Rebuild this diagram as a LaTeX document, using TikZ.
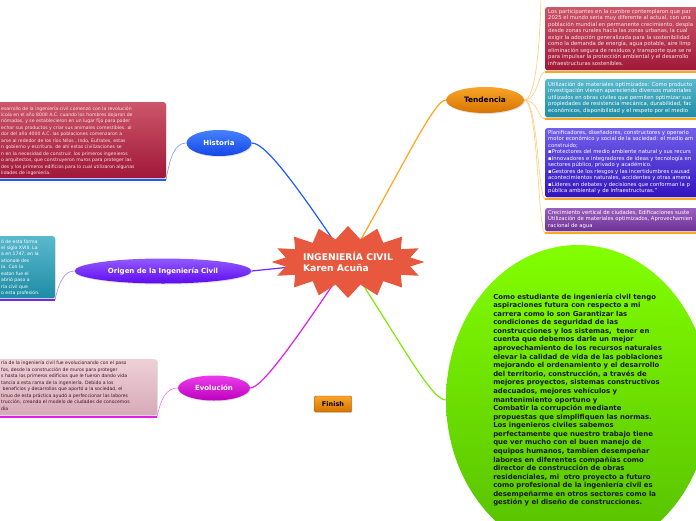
\documentclass[tikz,border=0pt]{standalone}
\usepackage{fontspec}
\setmainfont{DejaVu Sans}
\usetikzlibrary{shapes.symbols,shapes.geometric,shadows,backgrounds}
\definecolor{rojo}{RGB}{232,88,62}
\definecolor{azul}{RGB}{30,90,255}
\definecolor{azulA}{RGB}{70,130,255}
\definecolor{azulB}{RGB}{20,70,230}
\definecolor{azulclaro}{RGB}{120,150,255}
\definecolor{morado}{RGB}{110,40,255}
\definecolor{moradoA}{RGB}{145,90,255}
\definecolor{moradoB}{RGB}{95,10,240}
\definecolor{moradoclaro}{RGB}{160,130,255}
\definecolor{fucsia}{RGB}{225,30,235}
\definecolor{fucsiaA}{RGB}{235,60,235}
\definecolor{fucsiaB}{RGB}{190,0,190}
\definecolor{fucsiaclaro}{RGB}{240,120,245}
\definecolor{naranja}{RGB}{255,165,30}
\definecolor{naranjaA}{RGB}{248,165,40}
\definecolor{naranjaB}{RGB}{215,115,0}
\definecolor{naranjaclaro}{RGB}{255,200,120}
\definecolor{lima}{RGB}{125,235,0}
\definecolor{verdeA}{RGB}{130,255,0}
\definecolor{verdeB}{RGB}{85,190,0}
\definecolor{granateA}{RGB}{204,86,106}
\definecolor{granateB}{RGB}{160,24,56}
\definecolor{tealA}{RGB}{90,185,205}
\definecolor{tealB}{RGB}{30,140,165}
\definecolor{rosaA}{RGB}{238,208,216}
\definecolor{rosaB}{RGB}{214,170,184}
\definecolor{violetaA}{RGB}{115,95,235}
\definecolor{violetaB}{RGB}{50,20,190}
\definecolor{lilaA}{RGB}{155,95,190}
\definecolor{lilaB}{RGB}{110,50,150}
\definecolor{textorosa}{RGB}{250,228,235}
\definecolor{textoosc}{RGB}{60,20,40}
\definecolor{finborde}{RGB}{160,85,0}
\begin{document}
\begin{tikzpicture}[x=1pt,y=-1pt,line cap=round,line join=round,
  rama/.style={ellipse,minimum height=26pt,inner sep=0pt,text=white,
    font=\fontsize{7}{8}\selectfont\bfseries,
    drop shadow={opacity=0.25,shadow xshift=0.8pt,shadow yshift=-1pt}},
  caja/.style={rectangle,rounded corners=2pt,inner sep=0pt,
    drop shadow={opacity=0.25,shadow xshift=1pt,shadow yshift=-1pt}},
  texto/.style={anchor=base west,inner sep=0pt,align=left,
    font=\fontsize{4.6}{6.45}\selectfont},
  textoder/.style={texto,font=\fontsize{5.3}{6.5}\selectfont},
  barra/.style={line width=2pt,line cap=butt},
  enlace/.style={line width=1.2pt},
  hilo/.style={line width=0.6pt}]
\useasboundingbox (0,0) rectangle (696,520);

\node[starburst,starburst points=16,starburst point height=13pt,random starburst=0,
  fill=rojo,minimum width=144pt,minimum height=72pt,inner sep=0pt,align=left,text=white,
  font=\fontsize{9.2}{11}\selectfont\bfseries] (centro) at (348,262) {INGENIERÍA CIVIL\\Karen Acuña};

\node[rama,top color=azulA,bottom color=azulB,minimum width=65pt] (hist) at (219,143) {Historia};
\node[rama,top color=moradoA,bottom color=moradoB,minimum width=177pt,minimum height=25pt] (orig) at (163,271) {Origen de la Ingeniería Civil};
\node[rama,top color=fucsiaA,bottom color=fucsiaB,minimum width=72pt,minimum height=25pt] (evol) at (214,388) {Evolución};
\node[rama,top color=naranjaA,bottom color=naranjaB,minimum width=78pt,text=black,
  font=\fontsize{7.4}{8}\selectfont\bfseries] (tend) at (485,100) {Tendencia};

\node[ellipse,minimum width=264pt,minimum height=310pt,inner sep=0pt,top color=verdeA,bottom color=verdeB,
  align=left,text=black!90,font=\fontsize{6.9}{8.58}\selectfont\bfseries] (futuro) at (578,400)
  {Como estudiante de ingeniería civil tengo\\
   aspiraciones futura con respecto a mi\\
   carrera como lo son Garantizar las\\
   condiciones de seguridad de las\\
   construcciones y los sistemas,\ \ tener en\\
   cuenta que debemos darle un mejor\\
   aprovechamiento de los recursos naturales\\
   elevar la calidad de vida de las poblaciones\\
   mejorando el ordenamiento y el desarrollo\\
   del territorio, construcción, a través de\\
   mejores proyectos, sistemas constructivos\\
   adecuados, mejores vehículos y\\
   mantenimiento oportuno y\\
   Combatir la corrupción mediante\\
   propuestas que simplifiquen las normas.\\
   Los ingenieros civiles sabemos\\
   perfectamente que nuestro trabajo tiene\\
   que ver mucho con el buen manejo de\\
   equipos humanos, tambien desempeñar\\
   labores en diferentes compañías como\\
   director de construcción de obras\\
   residenciales, mi\ \ otro proyecto a futuro\\
   como profesional de la ingeniería civil es\\
   desempeñarme en otros sectores como la\\
   gestión y el diseño de construcciones.};

\node[caja,top color=granateA,bottom color=granateB,minimum width=174pt,minimum height=76pt,anchor=north east] (histbox) at (166,102) {};
\node[texto,text=textorosa] (histtxt) at (1,174.5)
  {esarrollo de la ingeniería civil comenzó con la revolución\\
   ícola en el año 8000 A.C. cuando los hombres dejaron de\\
   nómadas, y se establecieron en un lugar fijo para poder\\
   echar sus productos y criar sus animales comestibles. al\\
   dor del año 4000 A.C. las poblaciones comenzaron a\\
   arse al rededor de los ríos Nilos , Indo, Eufrates, estas\\
   n gobierno y escritura. de ahí estas civilizaciones se\\
   n en la necesidad de construir. los primeros ingenieros\\
   o arquitectos, que construyeron muros para proteger las\\
   des y los primeros edificios para lo cual utilizaron algunas\\
   lidades de ingeniería.};

\node[caja,top color=tealA,bottom color=tealB,minimum width=63pt,minimum height=62pt,anchor=north east] (origbox) at (55,236) {};
\node[texto,text=white] (origtxt) at (1,294.6)
  {ó de esta forma\\
   el siglo XVIII. La\\
   a en 1747, en la\\
   ationale des\\
   ía. Con la\\
   eaton fue el\\
   abrió paso a\\
   ría civil que\\
   o esta profesión.};

\node[caja,top color=rosaA,bottom color=rosaB,minimum width=165pt,minimum height=56pt,anchor=north east] (evolbox) at (157,359) {};
\node[texto,text=textoosc] (evoltxt) at (1,410)
  {ría de la ingeniería civil fue evolucionando con el paso\\
   fos, desde la construcción de muros para proteger\\
   s hasta los primeros edificios que le fueron dando vida\\
   tancia a esta rama de la ingeniería. Debido a los\\
   \ beneficios y desarrollos que aportó a la sociedad, el\\
   tinuo de esta práctica ayudó a perfeccionar las labores\\
   trucción, creando el modelo de ciudades de conocemos\\
   dia};

\node[caja,top color=granateA,bottom color=granateB,minimum width=160pt,minimum height=63pt,anchor=north west] (t1) at (545,7) {};
\node[textoder,text=textorosa] (t1txt) at (548,65)
  {Los participantes en la cumbre contemplaron que par\\
   2025 el mundo seria muy diferente al actual, con una\\
   población mundial en permanente crecimiento, despla\\
   desde zonas rurales hacia las zonas urbanas, la cual\\
   exigir la adopción generalizada para la sostenibilidad\\
   como la demanda de energía, agua potable, aire limp\\
   eliminación segura de residuos y transporte que se re\\
   para impulsar la protección ambiental y el desarrollo\\
   infraestructuras sostenibles.};

\node[caja,top color=tealA,bottom color=tealB,minimum width=160pt,minimum height=38pt,anchor=north west] (t2) at (545,79) {};
\node[textoder,text=white] (t2txt) at (548,112)
  {Utilización de materiales optimizados: Como producto\\
   investigación vienen apareciendo diversos materiales\\
   utilizados en obras civiles que permiten optimizar sus\\
   propiedades de resistencia mecánica, durabilidad, fac\\
   económicos, disponibilidad y el respeto por el medio};

\node[caja,top color=violetaA,bottom color=violetaB,minimum width=160pt,minimum height=69pt,anchor=north west] (t3) at (545,128) {};
\node[textoder,text=white] (t3txt) at (548,192.5)
  {Planificadores, diseñadores, constructores y operario\\
   motor económico y social de la sociedad: el medio am\\
   construido;\\
   ▪Protectores del medio ambiente natural y sus recurs\\
   ▪Innovadores e integradores de ideas y tecnología en\\
   sectores público, privado y académico.\\
   ▪Gestores de los riesgos y las incertidumbres causad\\
   acontecimientos naturales, accidentes y otras amena\\
   ▪Líderes en debates y decisiones que conforman la p\\
   pública ambiental y de infraestructuras.”};

\node[caja,top color=lilaA,bottom color=lilaB,minimum width=160pt,minimum height=23pt,anchor=north west] (t4) at (545,208) {};
\node[textoder,text=white] (t4txt) at (548,227)
  {Crecimiento vertical de ciudades, Edificaciones suste\\
   Utilización de materiales optimizados, Aprovechamien\\
   racional de agua};

\node[rounded corners=1pt,draw=finborde,line width=0.4pt,top color=naranjaA,bottom color=naranjaB,
  minimum width=37pt,minimum height=16pt,inner sep=0pt,font=\fontsize{6.5}{7}\selectfont\bfseries,
  drop shadow={opacity=0.25,shadow xshift=0.8pt,shadow yshift=-1pt}] (fin) at (333,404) {Finish};

\draw[barra,azul] ([yshift=-1.5pt]histbox.south west) -- ([yshift=-1.5pt]histbox.south east);
\draw[barra,morado] ([yshift=-1.5pt]origbox.south west) -- ([yshift=-1.5pt]origbox.south east);
\draw[barra,fucsia] ([yshift=-1.5pt]evolbox.south west) -- ([yshift=-1.5pt]evolbox.south east);
\draw[barra,naranja] ([yshift=-1.5pt]t1.south west) -- ([yshift=-1.5pt]t1.south east);
\draw[barra,naranja] ([yshift=-1.5pt]t2.south west) -- ([yshift=-1.5pt]t2.south east);
\draw[barra,naranja] ([yshift=-1.5pt]t3.south west) -- ([yshift=-1.5pt]t3.south east);
\draw[barra,naranja] ([yshift=-1.5pt]t4.south west) -- ([yshift=-1.5pt]t4.south east);

\coordinate (arriba) at (541,-10);
\begin{scope}[on background layer]
  \draw[enlace,azul] (hist.east) .. controls +(12,0) and +(-60,-90) .. (centro.center);
  \draw[enlace,naranja] (tend.west) .. controls +(-12,0) and +(55,-95) .. (centro.center);
  \draw[enlace,morado] (orig.east) .. controls +(10,-1) and +(-30,2) .. (centro.center);
  \draw[enlace,fucsia] (evol.east) .. controls +(12,0) and +(-50,75) .. (centro.center);
  \draw[enlace,lima] (centro.center) .. controls +(50,75) and +(-15,0) .. (futuro.west);
  \draw[hilo,azulclaro] (hist.west) .. controls +(-12,0) and +(4,-22) .. ([yshift=-1.5pt]histbox.south east);
  \draw[hilo,moradoclaro] (orig.west) .. controls +(-10,0) and +(4,-18) .. ([yshift=-1.5pt]origbox.south east);
  \draw[hilo,fucsiaclaro] (evol.west) .. controls +(-12,0) and +(4,-18) .. ([yshift=-1.5pt]evolbox.south east);
  \draw[hilo,naranjaclaro] (tend.east) .. controls +(14,0) and +(0,25) .. (arriba);
  \draw[hilo,naranjaclaro] (tend.east) .. controls +(14,0) and +(-7,0) .. ([yshift=-1.5pt]t1.south west);
  \draw[hilo,naranjaclaro] (tend.east) .. controls +(14,0) and +(-7,0) .. ([yshift=-1.5pt]t2.south west);
  \draw[hilo,naranjaclaro] (tend.east) .. controls +(14,0) and +(-7,0) .. ([yshift=-1.5pt]t3.south west);
  \draw[hilo,naranjaclaro] (tend.east) .. controls +(14,0) and +(-7,0) .. ([yshift=-1.5pt]t4.south west);
\end{scope}
\end{tikzpicture}
\end{document}
